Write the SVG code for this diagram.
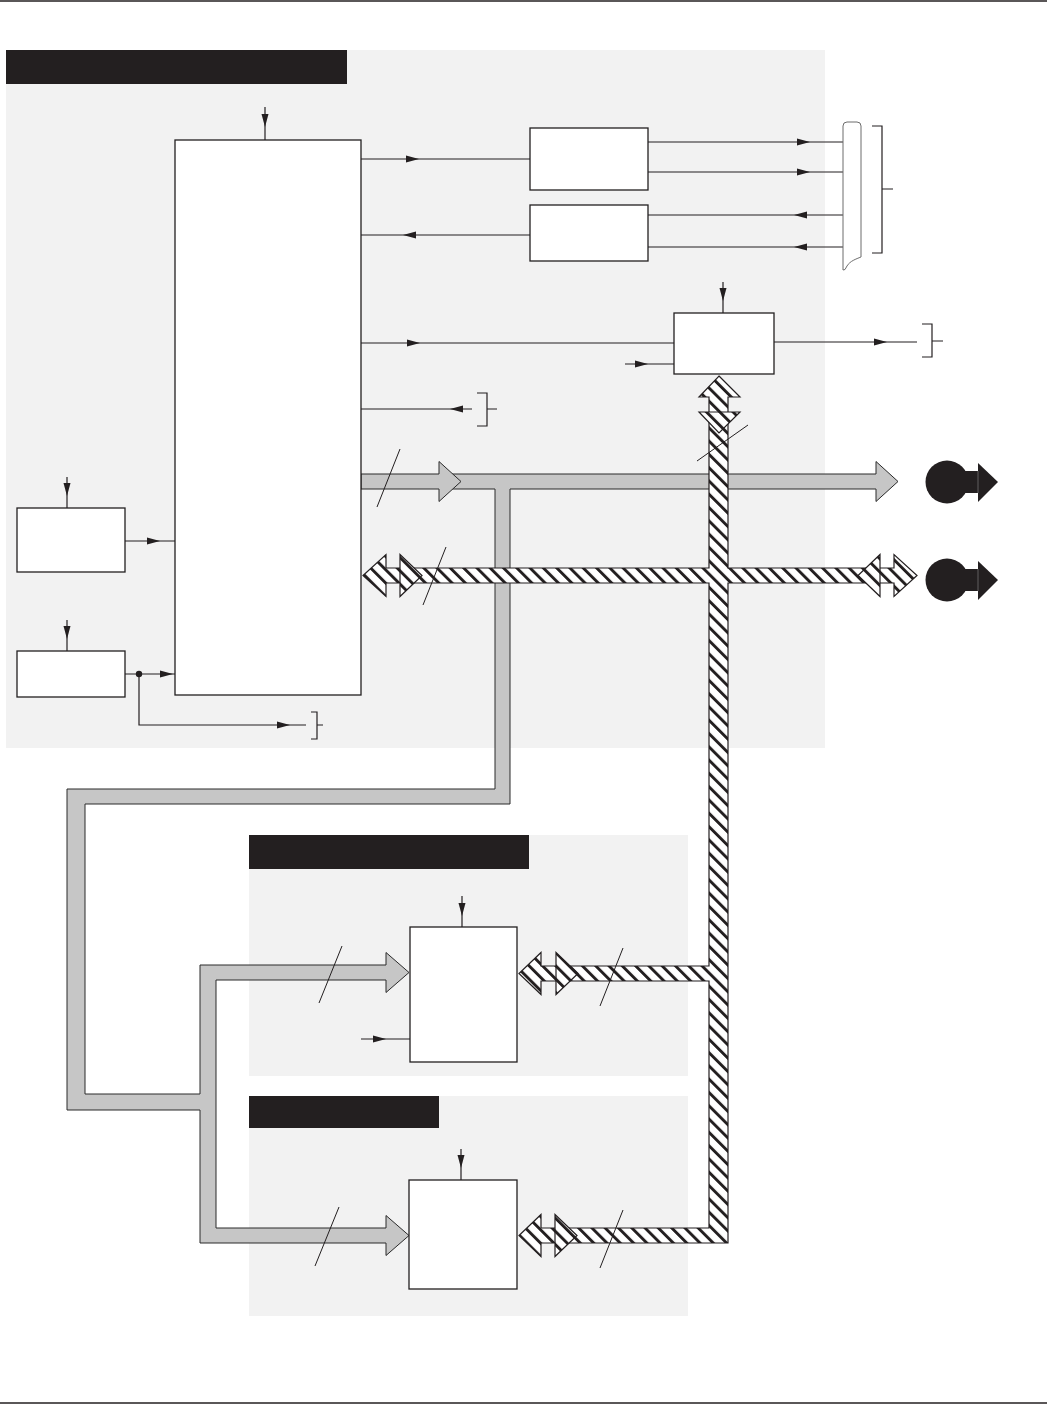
<svg xmlns="http://www.w3.org/2000/svg" xmlns:xlink="http://www.w3.org/1999/xlink" width="1047" height="1404" viewBox="0 0 1047 1404">
<style>
.panel{fill:#f2f2f2}
.hdr{fill:#231f20}
.box{fill:#fff;stroke:#231f20;stroke-width:1.3}
.ln{fill:none;stroke:#231f20;stroke-width:1.2}
.thin{fill:none;stroke:#231f20;stroke-width:1}
.ah{fill:#231f20}
.gbus{fill:#c6c6c6;stroke:#2a2a2a;stroke-width:1;stroke-linejoin:miter}
.hbus{fill:url(#hatch);stroke:#231f20;stroke-width:1.2;stroke-linejoin:miter}
.sym{fill:#231f20}
.rule{stroke:#231f20;stroke-width:1.5}
</style>
<defs>
<pattern id="hatch" width="9.4" height="9.4" patternUnits="userSpaceOnUse" patternTransform="rotate(-45)">
<rect width="9.4" height="9.4" fill="#fff"/>
<rect x="0" y="0" width="2.9" height="9.4" fill="#231f20"/>
</pattern>
<path id="ah" d="M0,0 L-13,-3.5 L-13,3.5 Z"/>
</defs>
<rect width="1047" height="1404" fill="#fff"/>
<line class="rule" x1="0" y1="1" x2="1047" y2="1"/>
<line class="rule" x1="0" y1="1403" x2="1047" y2="1403"/>

<g id="panel-main">
<rect class="panel" x="6" y="50" width="819" height="698"/>
<rect class="hdr" x="6" y="50" width="341" height="34"/>
</g>
<g id="panel-2">
<rect class="panel" x="249" y="835" width="439" height="241"/>
<rect class="hdr" x="249" y="835" width="280" height="34"/>
</g>
<g id="panel-3">
<rect class="panel" x="249" y="1096" width="439" height="220"/>
<rect class="hdr" x="249" y="1096" width="190" height="32"/>
</g>

<g id="connectors">
<!-- main box top input -->
<line class="ln" x1="265" y1="107" x2="265" y2="140"/>
<use href="#ah" class="ah" transform="translate(265,127) rotate(90)"/>
<!-- main box to tx -->
<line class="ln" x1="361" y1="159" x2="530" y2="159"/>
<use href="#ah" class="ah" transform="translate(419,159)"/>
<!-- rx to main box -->
<line class="ln" x1="361" y1="235" x2="530" y2="235"/>
<use href="#ah" class="ah" transform="translate(403,235) rotate(180)"/>
<!-- tx to connector -->
<line class="ln" x1="648" y1="142" x2="843" y2="142"/>
<use href="#ah" class="ah" transform="translate(810,142)"/>
<line class="ln" x1="648" y1="172" x2="843" y2="172"/>
<use href="#ah" class="ah" transform="translate(810,172)"/>
<!-- connector to rx -->
<line class="ln" x1="648" y1="215" x2="843" y2="215"/>
<use href="#ah" class="ah" transform="translate(794,215) rotate(180)"/>
<line class="ln" x1="648" y1="247" x2="843" y2="247"/>
<use href="#ah" class="ah" transform="translate(794,247) rotate(180)"/>
<!-- connector bracket -->
<path class="ln" d="M872,126 H882 V253 H872 M882,189 H893"/>
<!-- main box to box3 -->
<line class="ln" x1="361" y1="343" x2="674" y2="343"/>
<use href="#ah" class="ah" transform="translate(420,343)"/>
<!-- box3 top input -->
<line class="ln" x1="723" y1="282" x2="723" y2="313"/>
<use href="#ah" class="ah" transform="translate(723,301) rotate(90)"/>
<!-- box3 side input -->
<line class="ln" x1="625" y1="364" x2="674" y2="364"/>
<use href="#ah" class="ah" transform="translate(648,364)"/>
<!-- box3 output -->
<line class="ln" x1="774" y1="342" x2="917" y2="342"/>
<use href="#ah" class="ah" transform="translate(887,342)"/>
<path class="ln" d="M922,324 H932 V357 H922 M932,341 H943"/>
<!-- input into main box at 409 -->
<line class="ln" x1="361" y1="409" x2="472" y2="409"/>
<use href="#ah" class="ah" transform="translate(450,409) rotate(180)"/>
<path class="ln" d="M477,393 H487 V426 H477 M487,409 H497"/>
<!-- box A -->
<line class="ln" x1="67" y1="477" x2="67" y2="508"/>
<use href="#ah" class="ah" transform="translate(67,496) rotate(90)"/>
<line class="ln" x1="125" y1="541" x2="175" y2="541"/>
<use href="#ah" class="ah" transform="translate(160,541)"/>
<!-- box B -->
<line class="ln" x1="67" y1="620" x2="67" y2="651"/>
<use href="#ah" class="ah" transform="translate(67,639) rotate(90)"/>
<line class="ln" x1="125" y1="674" x2="175" y2="674"/>
<use href="#ah" class="ah" transform="translate(173,674)"/>
<circle cx="139" cy="674" r="3.2" fill="#231f20"/>
<path class="ln" d="M139,674 V725 H306"/>
<use href="#ah" class="ah" transform="translate(290,725)"/>
<path class="ln" d="M311,712 H317 V739 H311 M317,725 H323"/>
<!-- device 1 -->
<line class="ln" x1="462" y1="896" x2="462" y2="927"/>
<use href="#ah" class="ah" transform="translate(462,916) rotate(90)"/>
<line class="ln" x1="361" y1="1039" x2="410" y2="1039"/>
<use href="#ah" class="ah" transform="translate(386,1039)"/>
<!-- device 2 -->
<line class="ln" x1="461" y1="1149" x2="461" y2="1180"/>
<use href="#ah" class="ah" transform="translate(461,1168) rotate(90)"/>

<!-- gray bus network -->
<path class="gbus" d="M361,474 H876 V461.5 L898,481.5 L876,501.5 V489 H510 V804 H85 V1094 H200 V965 H386 V952.5 L409,972.5 L386,992.5 V980 H216 V1228 H386 V1215.5 L409,1235.5 L386,1255.5 V1243 H200 V1110 H67 V789 H495 V489 H361 Z"/>
<path d="M439,474 V461.5 L461,481.5 L439,501.5 V489 Z" fill="#c6c6c6"/>
<path class="gbus" fill="none" style="fill:none" d="M439,474 V461.5 L461,481.5 L439,501.5 V489"/>

<!-- hatched bus network -->
<path class="hbus" d="M719,376 L740,397 H728 V568 H894 V554.5 L917,575.5 L894,596.5 V583 H728 V1243 H541 V1256.5 L519,1235.5 L541,1214.5 V1228 H709 V981 H541 V994.5 L519,973.5 L541,952.5 V966 H709 V583 H386 V596.5 L363,575.5 L386,554.5 V568 H709 V397 H699 Z"/>
<path class="hbus" d="M400,554.5 L422,575.5 L400,596.5 Z"/>
<path class="hbus" d="M880,554.5 L858,575.5 L880,596.5 Z"/>
<path class="hbus" d="M699,412 H740 L719,433 Z"/>
<path class="hbus" d="M556,952.5 L578,973.5 L556,994.5 Z"/>
<path class="hbus" d="M555,1214.5 L577,1235.5 L555,1256.5 Z"/>

<!-- bus width slashes -->
<line class="thin" x1="377" y1="507" x2="400" y2="449"/>
<line class="thin" x1="423" y1="605" x2="446" y2="547"/>
<line class="thin" x1="697" y1="461" x2="748" y2="425"/>
<line class="thin" x1="319" y1="1003" x2="342" y2="946"/>
<line class="thin" x1="600" y1="1006" x2="623" y2="948"/>
<line class="thin" x1="315" y1="1266" x2="339" y2="1207"/>
<line class="thin" x1="600" y1="1268" x2="623" y2="1210"/>
</g>

<g id="box-main"><rect class="box" x="175" y="140" width="186" height="555"/></g>
<g id="box-tx"><rect class="box" x="530" y="128" width="118" height="62"/></g>
<g id="box-rx"><rect class="box" x="530" y="205" width="118" height="56"/></g>
<g id="box-3"><rect class="box" x="674" y="313" width="100" height="61"/></g>
<g id="box-a"><rect class="box" x="17" y="508" width="108" height="64"/></g>
<g id="box-b"><rect class="box" x="17" y="651" width="108" height="46"/></g>
<g id="box-dev1"><rect class="box" x="410" y="927" width="107" height="135"/></g>
<g id="box-dev2"><rect class="box" x="409" y="1180" width="108" height="109"/></g>
<g id="connector-plug">
<path d="M843,126 Q843,122 847,122 H857 Q861,122 861,126 V257 C856,259 850,261 847,266 Q845,271 843,270 Z" fill="#fff" stroke="#6d6d6d" stroke-width="1"/>
</g>
<g id="bus-symbol-1">
<circle class="sym" cx="947" cy="482" r="21.5"/>
<rect class="sym" x="947" y="471" width="31" height="22"/>
<path class="sym" d="M978,463 L998,482 L978,502 Z"/>
<line x1="978" y1="471" x2="978" y2="493" stroke="#8a8a8a" stroke-width="0.6"/>
</g>
<g id="bus-symbol-2">
<circle class="sym" cx="947" cy="580" r="21.5"/>
<rect class="sym" x="947" y="569" width="31" height="22"/>
<path class="sym" d="M978,561 L998,580 L978,600 Z"/>
<line x1="978" y1="569" x2="978" y2="591" stroke="#8a8a8a" stroke-width="0.6"/>
</g>
</svg>
